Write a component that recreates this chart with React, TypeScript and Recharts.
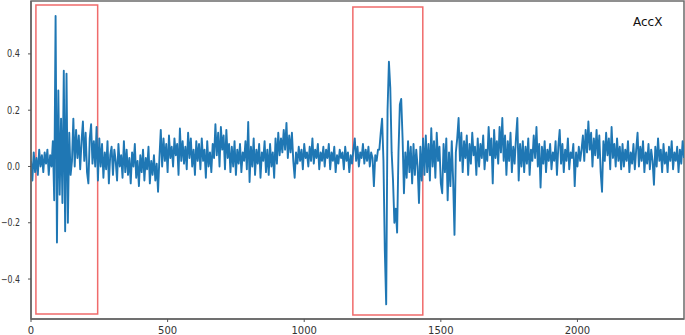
import React from 'react';
import { LineChart, Line, XAxis, YAxis, ReferenceArea } from 'recharts';

const SAMPLE_STEP = 5;
const SERIES_NAME = 'AccX';
const X_TICKS = [0, 500, 1000, 1500, 2000];
const Y_TICKS = [-0.4, -0.2, 0, 0.2, 0.4];
const X_DOMAIN: [number, number] = [0, 2390];
const Y_DOMAIN: [number, number] = [-0.542, 0.588];

// samples 0–75
const quietStart = [0.02, -0.05, 0.05, -0.02, 0.03, -0.03, 0.06, 0.0, 0.04, -0.02, 0.05, 0.01, 0.06, -0.03, 0.04, 0.0];
// samples 80–145 (first event)
const eventOne = [0.09, -0.12, 0.535, -0.27, 0.27, -0.1, 0.17, -0.13, 0.34, -0.23, 0.33, -0.2, 0.12, -0.03];
// samples 150–245
const afterOne = [0.02, 0.17, 0.0, 0.13, 0.03, 0.11, -0.01, 0.09, 0.16, 0.02, 0.12, -0.02, -0.06, 0.1, 0.15, 0.01, 0.09, 0.0, 0.14, -0.05];
// samples 250–345
const calmA = [0.1, 0.0, 0.08, -0.04, 0.05, -0.01, 0.09, -0.06, 0.04, 0.07, -0.03, 0.06, 0.02, -0.05, 0.08, 0.0, 0.04, -0.04, 0.09, -0.02];
// samples 350–470
const calmB = [0.06, -0.03, 0.03, -0.06, 0.05, 0.0, 0.08, -0.04, 0.02, -0.07, 0.04, -0.02, 0.06, -0.05, 0.03, -0.01, 0.07, -0.06, 0.02, -0.03, 0.04, -0.05, 0.01, -0.09, 0.03];
// samples 475–610
const calmC = [0.13, 0.0, 0.1, 0.02, 0.08, -0.02, 0.11, 0.03, 0.07, 0.0, 0.1, 0.04, 0.08, -0.03, 0.135, 0.02, 0.09, 0.01, 0.07, -0.01, 0.12, 0.03, 0.1, 0.0, 0.06, -0.03, 0.09, 0.02];
// samples 615–730
const calmD = [0.08, -0.01, 0.1, 0.02, 0.06, -0.04, 0.09, 0.0, 0.05, -0.02, 0.08, 0.03, 0.15, 0.04, 0.12, 0.0, 0.14, 0.06, 0.11, -0.01, 0.13, 0.03, 0.08, -0.02];
// samples 735–860
const calmE = [0.07, 0.0, 0.09, -0.03, 0.06, 0.01, 0.08, -0.02, 0.05, 0.02, 0.09, -0.01, 0.158, -0.055, 0.07, 0.0, 0.1, -0.03, 0.06, 0.01, 0.08, -0.04, 0.05, 0.02, 0.09, -0.02];
// samples 865–965
const calmF = [0.06, -0.03, 0.08, 0.0, 0.05, -0.04, 0.1, 0.01, 0.12, 0.04, 0.1, 0.05, 0.13, 0.06, 0.155, 0.03, 0.11, 0.05, 0.12, 0.02, -0.04];
// samples 970–1270
const calmG = [
  0.05, 0.01, 0.07, 0.02, 0.06, -0.01, 0.08, 0.03, 0.05, 0.0, 0.07, 0.02, 0.1, 0.01, 0.06, 0.03, 0.08, -0.01, 0.05, 0.02,
  0.07, 0.0, 0.06, 0.03, 0.08, -0.01, 0.05, 0.02, 0.07, -0.02, 0.04, 0.01, 0.06, 0.03, 0.05, -0.01, 0.07, 0.02, 0.05, -0.02,
  0.04, 0.01, 0.06, 0.1, 0.02, 0.07, 0.0, 0.05, 0.03, 0.08, 0.01, 0.06, 0.02, 0.07, 0.0, 0.05, 0.03, -0.07, 0.04, 0.02, 0.06,
];
// samples 1275–1365 (second event)
const eventTwo = [0.06, 0.12, 0.17, 0.02, -0.3, -0.49, 0.2, 0.372, 0.28, 0.05, -0.05, -0.2, -0.15, -0.235, 0.05, 0.22, 0.24, 0.1, -0.095];
// samples 1370–1440
const afterTwo = [0.05, -0.04, 0.09, -0.02, 0.07, -0.06, 0.08, -0.03, 0.06, 0.0, -0.13, 0.07, -0.05, 0.1, -0.03];
// samples 1445–1550
const calmH = [0.11, -0.02, 0.08, -0.05, 0.136, 0.0, 0.09, -0.04, 0.12, 0.02, 0.07, -0.06, -0.095, 0.08, -0.02, 0.1, -0.12, 0.05, -0.07, 0.09, -0.05, -0.243];
// samples 1555–1790
const calmI = [
  0.05, 0.1, 0.172, 0.02, 0.12, -0.02, 0.09, 0.03, 0.11, -0.03, 0.08, 0.01, 0.12, 0.04, 0.07, -0.03, 0.1, 0.0, 0.08, 0.03,
  0.11, -0.01, 0.06, 0.02, 0.14, 0.04, 0.1, -0.06, 0.13, 0.03, 0.09, 0.01, 0.14, 0.05, 0.172, 0.02, 0.11, -0.03, 0.09, 0.02,
  0.12, -0.02, 0.07, 0.01, 0.1, 0.172, -0.05, 0.08,
];
// samples 1795–2015
const calmJ = [
  0.0, 0.09, -0.02, 0.07, 0.01, 0.1, -0.03, 0.06, 0.02, 0.11, 0.03, 0.14, 0.0, 0.08, -0.075, 0.07, 0.01, 0.09, -0.02, 0.06,
  0.02, 0.08, -0.01, 0.05, 0.02, 0.09, -0.03, 0.07, 0.13, 0.01, 0.08, -0.02, 0.06, 0.02, 0.1, -0.01, 0.05, 0.03, 0.08, -0.07,
  0.05, 0.0, 0.07, 0.02, 0.06,
];
// samples 2020–2155
const raisedK = [0.11, 0.02, 0.13, 0.05, 0.16, 0.06, 0.12, 0.0, 0.1, 0.04, 0.13, 0.03, 0.11, -0.02, -0.09, 0.09, 0.02, 0.12, 0.04, 0.1, -0.01, 0.14, 0.03, 0.08, 0.0, 0.1, 0.02, 0.07];
// samples 2160–2390
const calmL = [
  -0.01, 0.08, 0.0, 0.06, 0.02, 0.09, -0.02, 0.05, 0.01, 0.08, -0.01, 0.06, 0.12, 0.0, 0.07, 0.02, 0.09, -0.02, 0.05, 0.01,
  0.08, -0.01, 0.06, 0.02, -0.065, 0.07, 0.0, 0.1, 0.02, 0.06, -0.02, 0.08, 0.01, 0.05, -0.02, 0.07, 0.02, 0.09, -0.01, 0.05,
  0.02, 0.07, -0.02, 0.06, 0.01, 0.09, 0.03,
];

const SEGMENTS: [number, number[]][] = [
  [0, quietStart], [80, eventOne], [150, afterOne], [250, calmA], [350, calmB], [475, calmC],
  [615, calmD], [735, calmE], [865, calmF], [970, calmG], [1275, eventTwo], [1370, afterTwo],
  [1445, calmH], [1555, calmI], [1795, calmJ], [2020, raisedK], [2160, calmL],
];

const HIGHLIGHT_X1 = [18, 1178];
const HIGHLIGHT_X2 = [244, 1434];
const HIGHLIGHT_Y1 = [-0.524, -0.528];
const HIGHLIGHT_Y2 = [0.574, 0.567];

const table: { x: number; v: number }[] = [];
SEGMENTS.forEach(([start, vals]) => {
  vals.forEach((v, k) => table.push({ x: start + k * SAMPLE_STEP, v }));
});

const fmtY = (v: number) => (v < 0 ? '\u2212' : '') + Math.abs(v).toFixed(1);

const tickStyle = { fontFamily: 'DejaVu Sans', fontSize: 10, fill: '#333' };

const YTick = (props: any) => {
  const { x, y, payload } = props;
  const v = payload.value as number;
  const label = fmtY(v);
  return (
    <text
      x={x}
      y={y}
      dy="0.35em"
      textAnchor="end"
      fontFamily="DejaVu Sans"
      fontSize={10}
      fill="#333"
      textLength={v < 0 ? 19 : 13}
      lengthAdjust="spacingAndGlyphs"
    >
      {label}
    </text>
  );
};

export default function App() {
  return (
    <div style={{ position: 'absolute', left: 0, top: 0, width: 685, height: 335, background: '#fff' }}>
      <LineChart width={685} height={335} data={table} margin={{ top: 1, right: 1, left: 0, bottom: 0 }}>
        <XAxis
          dataKey="x"
          type="number"
          domain={X_DOMAIN}
          ticks={X_TICKS}
          allowDataOverflow
          height={16}
          tickSize={3}
          tickMargin={5}
          tick={tickStyle}
          stroke="#666"
          tickLine={{ stroke: '#555' }}
          axisLine={{ stroke: '#666', strokeWidth: 1.5 }}
        />
        <YAxis
          type="number"
          domain={Y_DOMAIN}
          ticks={Y_TICKS}
          allowDataOverflow
          width={31}
          tickSize={3}
          tickMargin={8}
          tick={<YTick />}
          tickLine={{ stroke: '#555' }}
          axisLine={{ stroke: '#666', strokeWidth: 1.5 }}
        />
        <ReferenceArea
          x1={X_DOMAIN[0]}
          x2={X_DOMAIN[1]}
          y1={Y_DOMAIN[0]}
          y2={Y_DOMAIN[1]}
          fill="none"
          stroke="#6b6b6b"
          strokeWidth={1.5}
        />
        <Line
          dataKey="v"
          name={SERIES_NAME}
          stroke="#1f77b4"
          strokeWidth={1.9}
          dot={false}
          isAnimationActive={false}
          strokeLinejoin="round"
        />
        {HIGHLIGHT_X1.map((x1, i) => (
          <ReferenceArea
            key={i}
            x1={x1}
            x2={HIGHLIGHT_X2[i]}
            y1={HIGHLIGHT_Y1[i]}
            y2={HIGHLIGHT_Y2[i]}
            fill="none"
            stroke="#f06b6b"
            strokeWidth={1.5}
          />
        ))}
      </LineChart>
      <div
        style={{
          position: 'absolute',
          left: 633,
          top: 15,
          fontFamily: 'DejaVu Sans',
          fontSize: 12,
          color: '#111',
          lineHeight: '14px',
        }}
      >
        {SERIES_NAME}
      </div>
    </div>
  );
}
